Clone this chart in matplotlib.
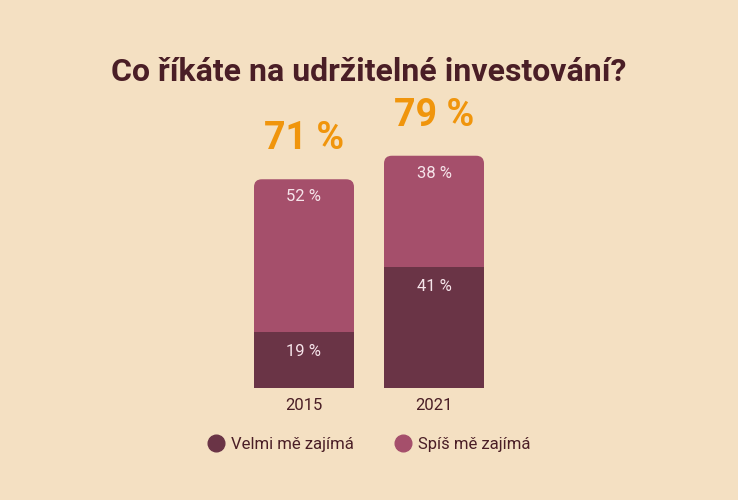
import matplotlib
matplotlib.use("Agg")
import matplotlib.pyplot as plt
from matplotlib.patches import FancyBboxPatch
from matplotlib.lines import Line2D

years = ["2015", "2021"]
velmi = [19, 41]      # Velmi mě zajímá
spis = [52, 38]       # Spíš mě zajímá
totals = [71, 79]

bg = "#f4e0c2"
dark = "#6a3446"
light = "#a54f6b"
orange = "#f0950c"
textc = "#4a1e26"

plt.rcParams["font.family"] = ["Roboto", "DejaVu Sans"]

fig = plt.figure(figsize=(7.38, 5), dpi=100, facecolor=bg)
ax = fig.add_axes([254 / 738, 112 / 500, 230 / 738, 294 / 500])
ax.set_facecolor(bg)
ax.set_xlim(-0.3846, 1.3846)
ax.set_ylim(0, 100)
ax.axis("off")

x = range(len(years))
w = 0.7692
top_bars = ax.bar(x, spis, bottom=velmi, width=w, color=light)
bot_bars = ax.bar(x, velmi, width=w, color=dark, zorder=3)

# rounded tops
for r, t in zip(top_bars, totals):
    r.set_visible(False)
    p = FancyBboxPatch((r.get_x(), 0), r.get_width(), t,
                       boxstyle="round,pad=0,rounding_size=0.06",
                       mutation_aspect=130 / 2.94, fc=light, ec="none", zorder=2)
    ax.add_patch(p)

for i in x:
    ax.text(i, velmi[i] + spis[i] - 6, f"{spis[i]} %", ha="center", va="center",
            color="#f6e4ea", fontsize=12, zorder=4)
    ax.text(i, velmi[i] - 6.5, f"{velmi[i]} %", ha="center", va="center",
            color="#f6e4ea", fontsize=12, zorder=4)
    ax.text(i, totals[i] + 7.5, f"{totals[i]} %", ha="center", va="bottom",
            color=orange, fontsize=27, fontweight="bold", zorder=4)
    ax.text(i, -3.5, years[i], ha="center", va="top", color=textc, fontsize=12)

fig.text(0.5, 1 - 72 / 500, "Co říkáte na udržitelné investování?", ha="center",
         va="center", fontsize=23, fontweight="bold", color=textc)

handles = [Line2D([], [], marker="o", ls="none", ms=12, color=dark),
           Line2D([], [], marker="o", ls="none", ms=12, color=light)]
leg = fig.legend(handles, ["Velmi mě zajímá", "Spíš mě zajímá"], ncol=2,
                 loc="center", bbox_to_anchor=(0.5, 1 - 444 / 500), frameon=False,
                 fontsize=12, handletextpad=0.4, columnspacing=2.4, handlelength=1)
for t in leg.get_texts():
    t.set_color(textc)

fig.savefig("out.png", dpi=100, facecolor=bg)
